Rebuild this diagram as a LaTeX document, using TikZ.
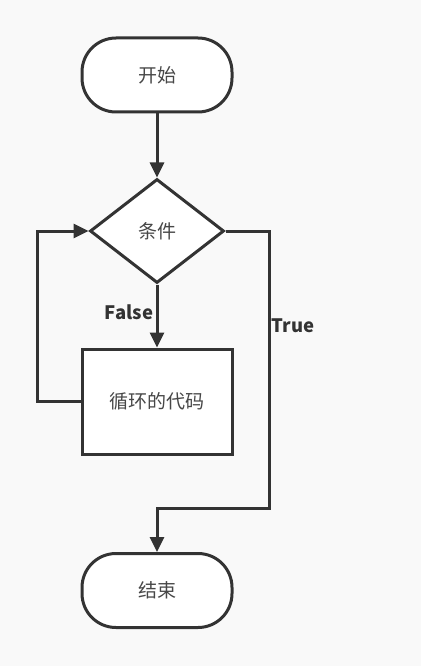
\documentclass[tikz,border=0pt]{standalone}
\usepackage{fontspec}
\setmainfont{Noto Sans CJK SC}
\usetikzlibrary{arrows.meta,shapes.geometric}
\definecolor{ink}{HTML}{333333}
\definecolor{bg}{HTML}{F9F9F9}
\begin{document}
\begin{tikzpicture}[x=1pt,y=-1pt,
  line width=3pt, draw=ink,
  term/.style={draw=ink,fill=white,line width=3pt,rounded corners=34pt,minimum width=150pt,minimum height=74pt,inner sep=0pt,font=\fontsize{19}{22}\selectfont,text=ink!90},
  proc/.style={draw=ink,fill=white,line width=3pt,minimum width=150pt,minimum height=105pt,inner sep=0pt,font=\fontsize{19}{22}\selectfont,text=ink!90},
  cond/.style={draw=ink,fill=white,line width=3pt,diamond,minimum width=134pt,minimum height=104pt,inner sep=0pt,font=\fontsize{19}{22}\selectfont,text=ink!90},
  conn/.style={draw=ink,line width=3pt,-{Triangle[length=15pt,width=14pt]}},
  lbl/.style={font=\bfseries\fontsize{18.5}{22}\selectfont,text=ink}]
\fill[bg] (0,0) rectangle (421,666);
\useasboundingbox (0,0) rectangle (421,666);
\node[term] (start) at (157,75) {开始};
\node[cond] (cond) at (157,231) {条件};
\node[proc] (body) at (157,401.5) {循环的代码};
\node[term] (end) at (157,590.5) {结束};
\coordinate (l1) at (37,401.5);
\coordinate (l2) at (37,231);
\coordinate (r1) at (269,231);
\coordinate (r2) at (269,508);
\coordinate (r3) at (157,508);
\draw[conn] (start) -- (cond);
\draw[conn] (cond) -- (body);
\draw[conn] (body.west) -- (l1) -- (l2) -- (cond.west);
\draw[conn] (cond.east) -- (r1) -- (r2) -- (r3) -- (end.north);
\node[lbl] (f) at (129,312) {False};
\node[lbl] (t) at (293,326) {True};
\end{tikzpicture}
\end{document}
